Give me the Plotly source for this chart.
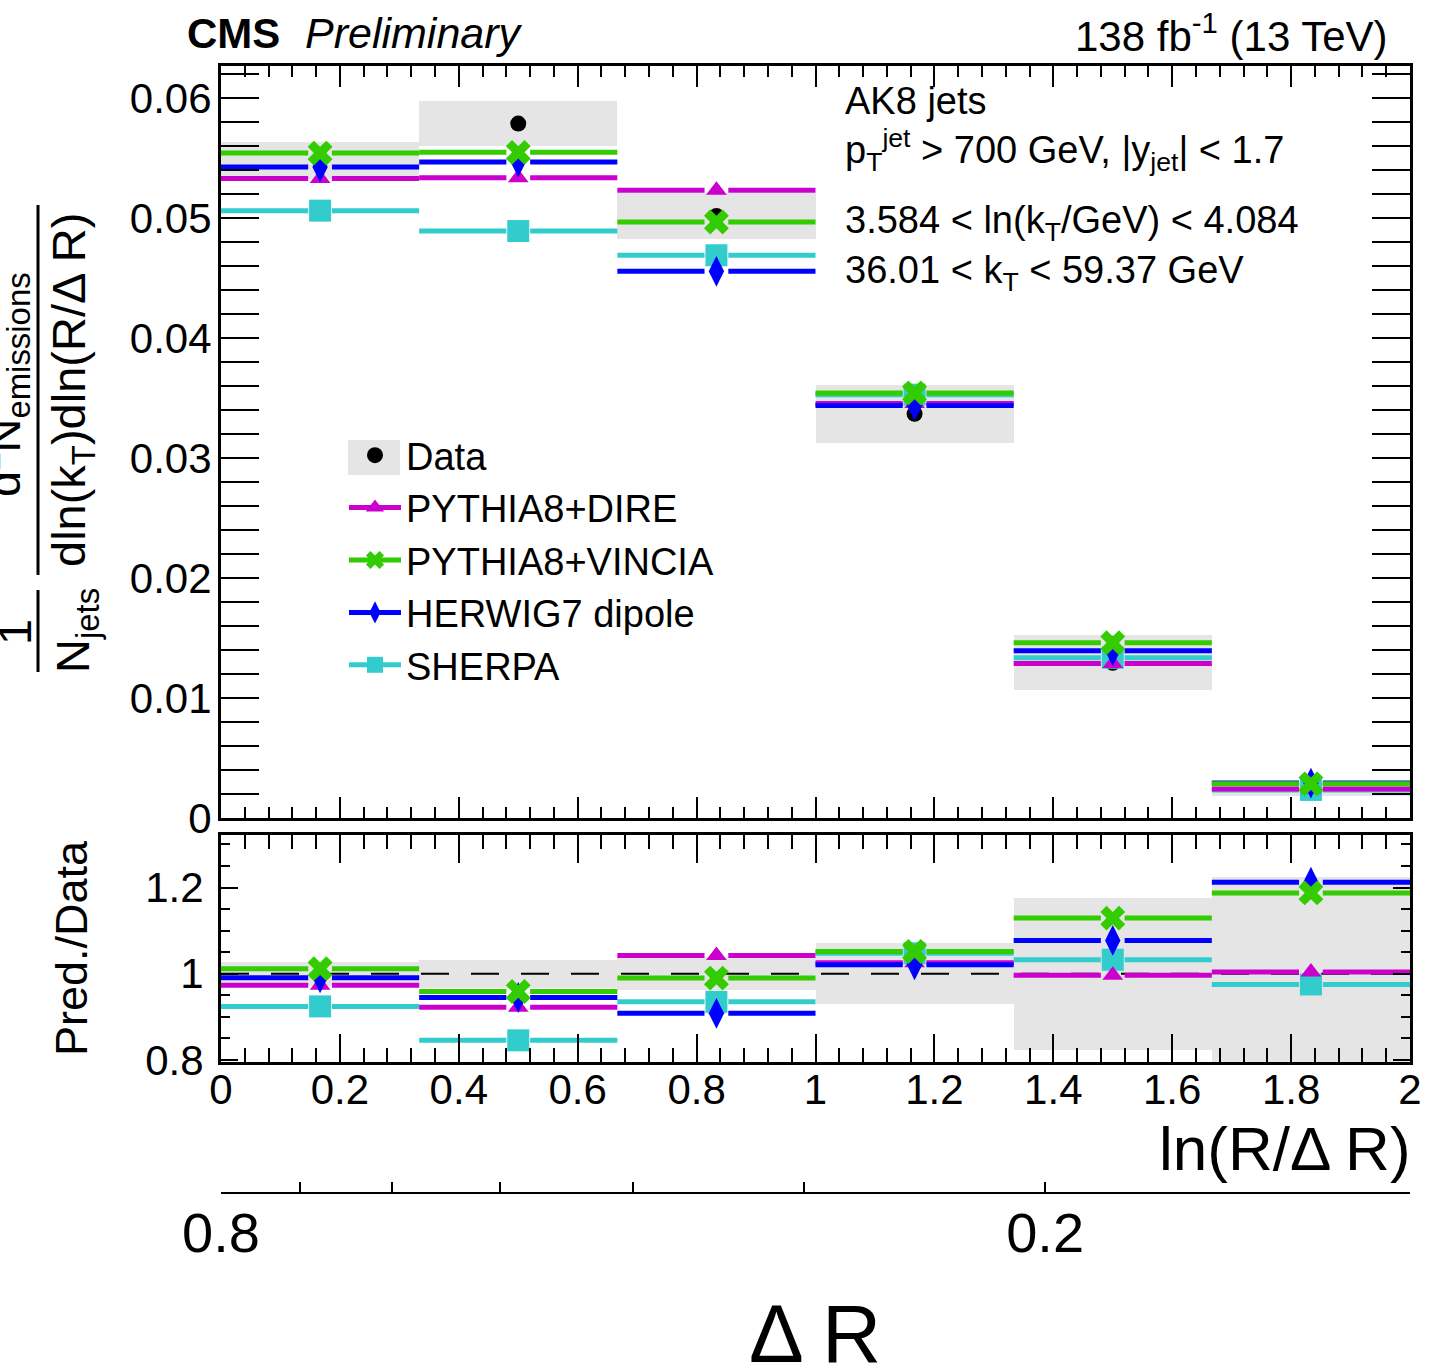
import math
import plotly.graph_objects as go

W, H = 1434, 1369
FONT = "Liberation Sans, Arial, Helvetica, sans-serif"
NARROW = "Liberation Sans Narrow, Liberation Sans, Arial, sans-serif"

# ln(R/dR) bin edges
LN_EDGES = [0.0, 1 / 3, 2 / 3, 1.0, 4 / 3, 5 / 3, 2.0]
JET_R = 0.8

# Unfolded data and its total uncertainty
DATA = [0.0548, 0.0579, 0.0502, 0.0337, 0.01294, 0.0024]
DATA_ERR = [0.00155, 0.0019, 0.0019, 0.0024, 0.00228, 0.00054]

# Generator predictions
DIRE = [0.05333, 0.05339, 0.05233, 0.03455, 0.01289, 0.00241]
VINCIA = [0.05544, 0.0555, 0.04969, 0.03544, 0.01461, 0.00285]
HERWIG = [0.05428, 0.0547, 0.04558, 0.0344, 0.01394, 0.00291]
SHERPA = [0.05064, 0.04894, 0.04692, 0.0353, 0.01336, 0.00234]

# Secondary Delta R scale
DR_TICKS = [0.8, 0.7, 0.6, 0.5, 0.4, 0.3, 0.2]
DR_LABELS = ["0.8", "", "", "", "", "", "0.2"]


def px(x):
    return x / W


def py(y):
    return 1 - y / H


centers = [(a + b) / 2 for a, b in zip(LN_EDGES[:-1], LN_EDGES[1:])]
widths = [b - a for a, b in zip(LN_EDGES[:-1], LN_EDGES[1:])]
ratio_err = [e / d for e, d in zip(DATA_ERR, DATA)]
GAP = 0.02

fig = go.Figure()

# uncertainty bands
fig.add_trace(go.Bar(x=centers, y=[2 * e for e in DATA_ERR],
                     base=[d - e for d, e in zip(DATA, DATA_ERR)],
                     width=widths, marker=dict(color="#e5e5e5", line_width=0),
                     showlegend=False, hoverinfo="skip", xaxis="x", yaxis="y"))
fig.add_trace(go.Bar(x=centers, y=[2 * r for r in ratio_err],
                     base=[1 - r for r in ratio_err],
                     width=widths, marker=dict(color="#e5e5e5", line_width=0),
                     showlegend=False, hoverinfo="skip", xaxis="x2", yaxis="y2"))
fig.add_trace(go.Scatter(x=[LN_EDGES[0], LN_EDGES[-1]], y=[1, 1], mode="lines",
                         line=dict(color="black", width=2, dash="28px,22px"),
                         showlegend=False, hoverinfo="skip", xaxis="x2", yaxis="y2"))

# data points
fig.add_trace(go.Scatter(x=centers, y=DATA, mode="markers", name="Data",
                         marker=dict(color="black", size=16, symbol="circle"),
                         legendrank=1, xaxis="x", yaxis="y"))

models = [
    ("SHERPA", SHERPA, "#33cccc", "square", 22, 5),
    ("PYTHIA8+DIRE", DIRE, "#cc00cc", "triangle-up", 18, 2),
    ("HERWIG7 dipole", HERWIG, "#0000ff", "diamond-tall", 22, 4),
    ("PYTHIA8+VINCIA", VINCIA, "#33cc00", "x", 22, 3),
]


def segments(vals):
    xs, ys = [], []
    for a, b, c, v in zip(LN_EDGES[:-1], LN_EDGES[1:], centers, vals):
        xs += [a, c - GAP, None, c + GAP, b, None]
        ys += [v, v, None, v, v, None]
    return xs, ys


def isolated(vals):
    xs, ys = [], []
    for c, v in zip(centers, vals):
        xs += [c, None]
        ys += [v, None]
    return xs, ys


for name, vals, col, sym, size, rank in models:
    ratios = [v / d for v, d in zip(vals, DATA)]
    for ax, ay, series, legend in (("x", "y", vals, True), ("x2", "y2", ratios, False)):
        sx, sy = segments(series)
        fig.add_trace(go.Scatter(x=sx, y=sy, mode="lines", line=dict(color=col, width=5),
                                 showlegend=False, legendgroup=name, hoverinfo="skip",
                                 xaxis=ax, yaxis=ay))
        mx, my = isolated(series)
        fig.add_trace(go.Scatter(x=mx, y=my, mode="lines+markers", name=name,
                                 line=dict(color=col, width=5),
                                 marker=dict(color=col, size=size, symbol=sym, line_width=0),
                                 showlegend=legend, legendgroup=name, legendrank=rank,
                                 xaxis=ax, yaxis=ay))

# anchor trace for the Delta R axis
fig.add_trace(go.Scatter(x=[DR_TICKS[0]], y=[None], mode="markers", showlegend=False,
                         hoverinfo="skip", xaxis="x3", yaxis="y"))

frame = dict(showline=True, linewidth=3, linecolor="black", mirror="allticks",
             ticks="inside", tickwidth=2, tickcolor="black", showgrid=False,
             zeroline=False, automargin=False,
             tickfont=dict(family=FONT, size=42, color="black"))
xdom = [px(221), px(1410)]

fig.update_layout(
    template="none",
    width=W, height=H, autosize=False,
    margin=dict(l=0, r=0, t=0, b=0, pad=0, autoexpand=False),
    paper_bgcolor="white", plot_bgcolor="white",
    barmode="overlay", bargap=0,
    font=dict(family=FONT, color="black"),
    xaxis=dict(frame, domain=xdom, anchor="y", range=[0, 2], dtick=0.2, tick0=0,
               ticklen=21, showticklabels=False,
               minor=dict(dtick=0.04, ticklen=11, tickwidth=2, ticks="inside",
                          tickcolor="black", showgrid=False)),
    yaxis=dict(frame, domain=[py(818), py(66)], anchor="x", range=[0, 0.0627],
               dtick=0.01, tick0=0, ticklen=38, ticklabelstandoff=-2,
               minor=dict(dtick=0.002, ticklen=19, tickwidth=2, ticks="inside",
                          tickcolor="black", showgrid=False)),
    xaxis2=dict(frame, domain=xdom, anchor="y2", range=[0, 2], dtick=0.2, tick0=0,
                ticklen=28, ticklabelstandoff=-11,
                minor=dict(dtick=0.04, ticklen=14, tickwidth=2, ticks="inside",
                           tickcolor="black", showgrid=False)),
    yaxis2=dict(frame, domain=[py(1062), py(835)], anchor="x2", range=[0.795, 1.322],
                dtick=0.2, tick0=0, ticklen=17, ticklabelstandoff=6,
                minor=dict(dtick=0.05, ticklen=9, tickwidth=2, ticks="inside",
                           tickcolor="black", showgrid=False)),
    xaxis3=dict(type="log", overlaying="x", anchor="free", position=py(1193), side="bottom",
                range=[math.log10(JET_R), math.log10(JET_R * math.exp(-2))],
                tickvals=DR_TICKS, ticktext=DR_LABELS, ticks="inside", ticklen=10,
                tickwidth=2, tickcolor="black", showline=True, linewidth=2,
                linecolor="black", showgrid=False, zeroline=False, ticklabelstandoff=-9,
                automargin=False,
                tickfont=dict(family=NARROW, size=56, color="black")),
    legend=dict(x=px(344), y=py(424), xanchor="left", yanchor="top", itemwidth=52,
                bgcolor="rgba(0,0,0,0)", font=dict(family=FONT, size=38, color="black"),
                tracegroupgap=0, traceorder="normal"),
    showlegend=True,
)

shapes = [
    # grey box behind the Data legend symbol
    dict(type="rect", xref="paper", yref="paper", x0=px(348), x1=px(400),
         y0=py(475), y1=py(440), fillcolor="#e5e5e5", line_width=0, layer="below"),
    # fraction bars of the y-axis title
    dict(type="line", xref="paper", yref="paper", x0=px(38), x1=px(38),
         y0=py(575), y1=py(205), line=dict(color="black", width=3)),
    dict(type="line", xref="paper", yref="paper", x0=px(38), x1=px(38),
         y0=py(672), y1=py(590), line=dict(color="black", width=3)),
]
fig.update_layout(shapes=shapes)


def note(text, x, y, size, xanchor="left", angle=0, family=FONT):
    fig.add_annotation(text=text, x=px(x), y=py(y), xref="paper", yref="paper",
                       xanchor=xanchor, yanchor="middle", showarrow=False,
                       textangle=angle, font=dict(family=family, size=size, color="black"))


note("<b>CMS</b>", 185, 33, 42)
note("<i>Preliminary</i>", 303, 33, 43)
note("138 fb<sup>-1</sup> (13 TeV)", 1390, 33, 42, xanchor="right")

note("AK8 jets", 843, 101, 38)
note("p<sub>T</sub><sup>jet</sup> > 700 GeV, |y<sub>jet</sub>| < 1.7", 843, 150, 38)
note("3.584 < ln(k<sub>T</sub>/GeV) < 4.084", 843, 223, 38)
note("36.01 < k<sub>T</sub> < 59.37 GeV", 843, 273, 38)

# y-axis title of the main panel, built as two stacked fractions
note("d<sup>2</sup>N<sub>emissions</sub>", 4, 385, 47, xanchor="center", angle=-90)
note("dln(k<sub>T</sub>)dln(R/Δ R)", 72, 390, 47, xanchor="center", angle=-90)
note("1", 14, 632, 47, xanchor="center", angle=-90)
note("N<sub>jets</sub>", 76, 631, 47, xanchor="center", angle=-90)

note("Pred./Data", 72, 948, 45, xanchor="center", angle=-90)
note("ln(R/Δ R)", 1413, 1148, 62, xanchor="right")
note("Δ R", 815, 1333, 82, xanchor="center", family=NARROW)

fig.write_html("out.html")
